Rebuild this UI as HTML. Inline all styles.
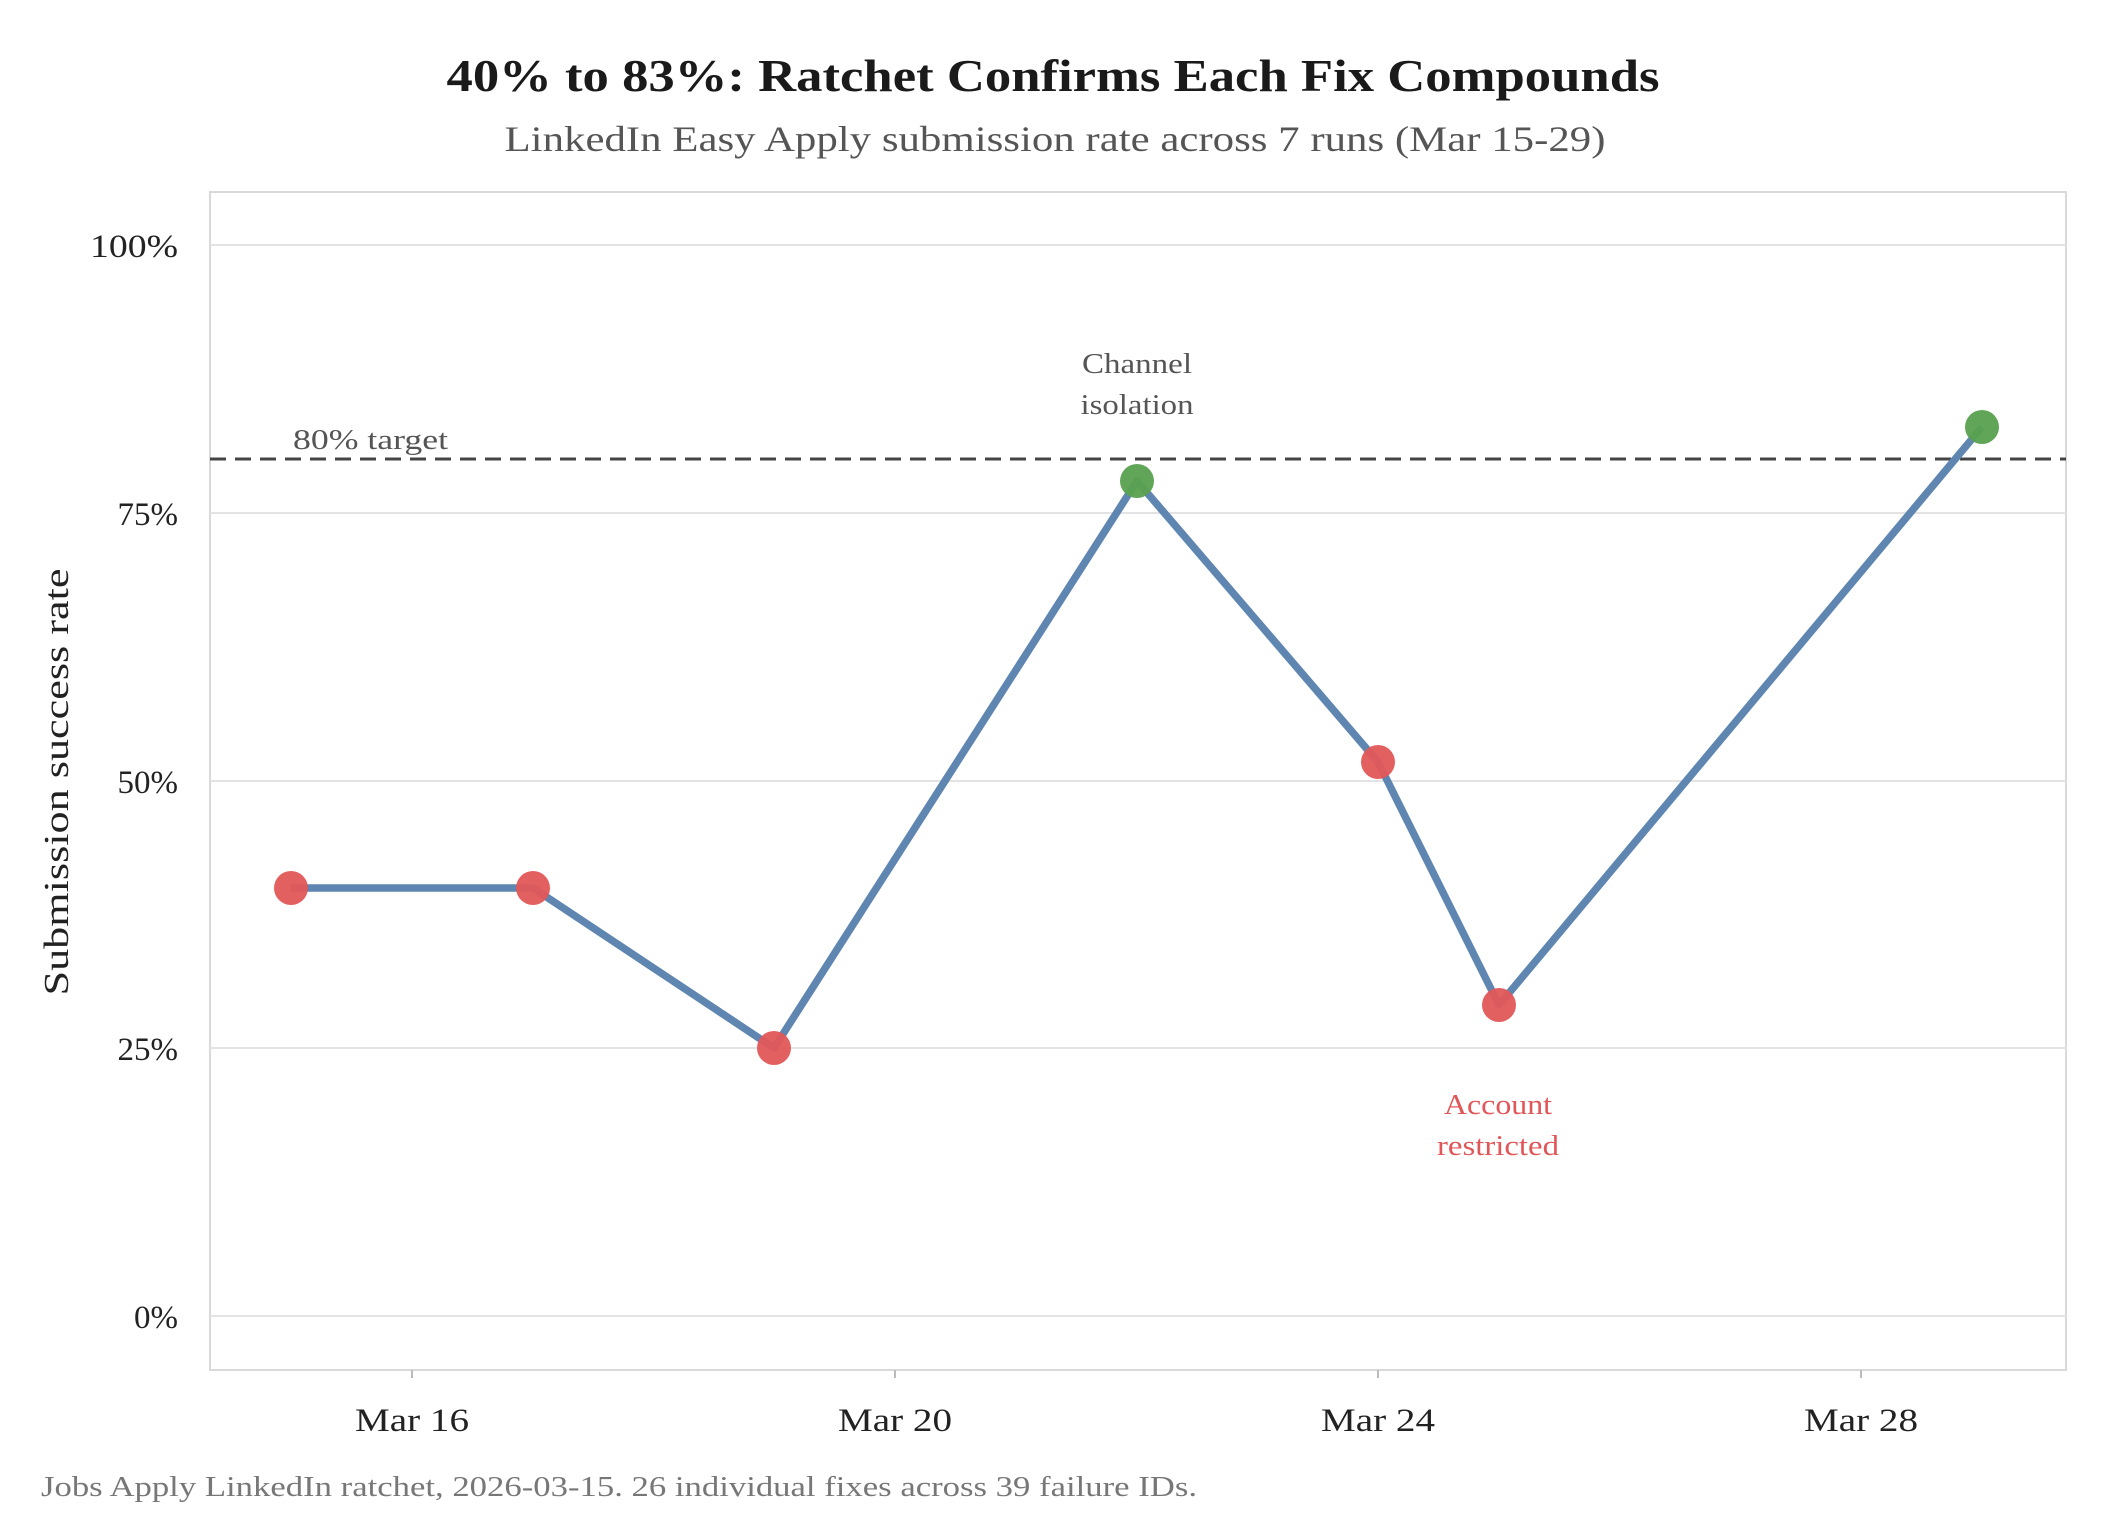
<!DOCTYPE html>
<html><head><meta charset="utf-8"><style>body{margin:0;background:#fff}</style></head><body>
<svg width="2125" height="1535" xmlns="http://www.w3.org/2000/svg" font-family="Liberation Serif, serif">
<rect width="2125" height="1535" fill="#fff"/>
<text x="1053" y="91" text-anchor="middle" font-size="46" font-weight="bold" fill="#1a1a1a" textLength="1213" lengthAdjust="spacingAndGlyphs">40% to 83%: Ratchet Confirms Each Fix Compounds</text>
<text x="1055" y="151" text-anchor="middle" font-size="36" fill="#555" textLength="1101" lengthAdjust="spacingAndGlyphs">LinkedIn Easy Apply submission rate across 7 runs (Mar 15-29)</text>
<rect x="210" y="192" width="1856" height="1178" fill="none" stroke="#d9d9d9" stroke-width="2"/>
<g stroke="#e3e3e3" stroke-width="2">
<line x1="210" x2="2066" y1="245" y2="245"/><line x1="210" x2="2066" y1="513" y2="513"/><line x1="210" x2="2066" y1="781" y2="781"/><line x1="210" x2="2066" y1="1048" y2="1048"/><line x1="210" x2="2066" y1="1316" y2="1316"/>
</g>
<g stroke="#bbb" stroke-width="2"><line x1="412" x2="412" y1="1370" y2="1378"/><line x1="895" x2="895" y1="1370" y2="1378"/><line x1="1378" x2="1378" y1="1370" y2="1378"/><line x1="1861" x2="1861" y1="1370" y2="1378"/></g>
<g font-size="33" fill="#222" text-anchor="end">
<text x="178" y="257" textLength="88" lengthAdjust="spacingAndGlyphs">100%</text><text x="178" y="525">75%</text><text x="178" y="793">50%</text><text x="178" y="1060">25%</text><text x="178" y="1328">0%</text>
</g>
<g font-size="33" fill="#222" text-anchor="middle">
<text x="412" y="1431" textLength="114" lengthAdjust="spacingAndGlyphs">Mar 16</text><text x="895" y="1431" textLength="114" lengthAdjust="spacingAndGlyphs">Mar 20</text><text x="1378" y="1431" textLength="114" lengthAdjust="spacingAndGlyphs">Mar 24</text><text x="1861" y="1431" textLength="114" lengthAdjust="spacingAndGlyphs">Mar 28</text>
</g>
<text transform="translate(68,782) rotate(-90)" text-anchor="middle" font-size="35" fill="#222" textLength="427" lengthAdjust="spacingAndGlyphs">Submission success rate</text>
<line x1="210" x2="2066" y1="459" y2="459" stroke="#444" stroke-width="3" stroke-dasharray="16,9"/>
<text x="293" y="449" font-size="29" fill="#555" textLength="155" lengthAdjust="spacingAndGlyphs">80% target</text>
<polyline points="291,888 533,888 774,1048 1137,481 1378,762 1499,1005 1982,427" fill="none" stroke="#5f86b1" stroke-width="7.5" stroke-linejoin="round"/>
<g fill="#e15759" opacity="0.95"><circle cx="291" cy="888" r="17"/><circle cx="533" cy="888" r="17"/><circle cx="774" cy="1048" r="17"/><circle cx="1378" cy="762" r="17"/><circle cx="1499" cy="1005" r="17"/></g>
<g fill="#59a14f" opacity="0.95"><circle cx="1137" cy="481" r="17"/><circle cx="1982" cy="427" r="17"/></g>
<g font-size="28" fill="#555" text-anchor="middle"><text x="1137" y="373" textLength="110" lengthAdjust="spacingAndGlyphs">Channel</text><text x="1137" y="414" textLength="113" lengthAdjust="spacingAndGlyphs">isolation</text></g>
<g font-size="28" fill="#e15759" text-anchor="middle"><text x="1498" y="1114" textLength="108" lengthAdjust="spacingAndGlyphs">Account</text><text x="1498" y="1155" textLength="122" lengthAdjust="spacingAndGlyphs">restricted</text></g>
<text x="41" y="1496" font-size="29" fill="#777" textLength="1156" lengthAdjust="spacingAndGlyphs">Jobs Apply LinkedIn ratchet, 2026-03-15. 26 individual fixes across 39 failure IDs.</text>
</svg>
</body></html>
